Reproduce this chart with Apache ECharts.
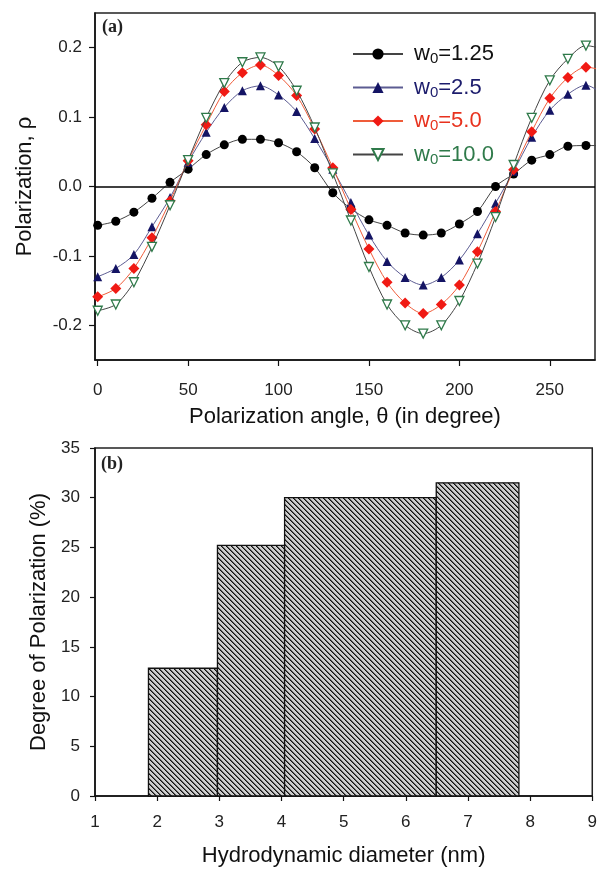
<!DOCTYPE html>
<html><head><meta charset="utf-8">
<script src="https://cdn.jsdelivr.net/npm/echarts@6/dist/echarts.min.js"></script>
<style>html,body{margin:0;padding:0;background:#fff}#c{width:600px;height:869px}</style>
</head><body><div id="c"></div>
<script>
// ---- Data (panel a) ----
const angles = [0,10,20,30,40,50,60,70,80,90,100,110,120,130,140,150,160,170,180,190,200,210,220,230,240,250,260,270,280];
const rho_w125 = [-0.056,-0.050,-0.037,-0.017,0.006,0.025,0.046,0.060,0.068,0.068,0.063,0.050,0.027,-0.009,-0.032,-0.048,-0.056,-0.067,-0.070,-0.067,-0.054,-0.036,0.000,0.018,0.038,0.046,0.058,0.059,0.059];
const rho_w25  = [-0.130,-0.118,-0.098,-0.058,-0.016,0.035,0.078,0.114,0.138,0.145,0.132,0.108,0.069,0.025,-0.023,-0.070,-0.108,-0.131,-0.142,-0.131,-0.106,-0.068,-0.024,0.022,0.071,0.110,0.133,0.146,0.132];
const rho_w50  = [-0.159,-0.147,-0.118,-0.074,-0.021,0.037,0.089,0.137,0.164,0.175,0.160,0.131,0.083,0.027,-0.033,-0.090,-0.138,-0.168,-0.183,-0.170,-0.142,-0.094,-0.036,0.024,0.079,0.127,0.157,0.172,0.167];
const rho_w100 = [-0.179,-0.170,-0.138,-0.087,-0.027,0.038,0.099,0.149,0.179,0.186,0.173,0.138,0.085,0.019,-0.049,-0.116,-0.170,-0.200,-0.212,-0.200,-0.165,-0.111,-0.044,0.031,0.099,0.153,0.184,0.203,0.198];
const seriesNames = ['w0=1.25','w0=2.5','w0=5.0','w0=10.0'];
const legendValues = ['1.25','2.5','5.0','10.0'];
const xTicksA = [0,50,100,150,200,250];
const yTicksA = [-0.2,-0.1,0.0,0.1,0.2];

// ---- Data (panel b) ----
const binLeft  = [1.86, 2.97, 4.05, 6.49];
const binRight = [2.97, 4.05, 6.49, 7.82];
const degree   = [12.85, 25.2, 30.0, 31.5];

const FONT = 'Liberation Sans, Arial, sans-serif';
function zip(xs, ys){ return xs.map((x,i)=>[x, ys[i]]); }

// hatch pattern
const pc = document.createElement('canvas');
const S = 5; pc.width = S; pc.height = S;
const ctx = pc.getContext('2d');
const img = ctx.createImageData(S, S);
for (let y=0;y<S;y++) for (let x=0;x<S;x++){
  const d = ((x - y) % S + S) % S;
  let v = 205;
  if (d === 0) v = 15; else if (d === 1) v = 95;
  const k = (y*S + x)*4;
  img.data[k]=v; img.data[k+1]=v; img.data[k+2]=v; img.data[k+3]=255;
}
ctx.putImageData(img,0,0);

const chart = echarts.init(document.getElementById('c'), null, {renderer:'canvas'});
const axisLineA = {show:true, onZero:false, lineStyle:{color:'#111', width:1.5}};
const axisTick = {show:true, inside:false, length:6, lineStyle:{color:'#111', width:1.2}};
const labelStyle = {color:'#222', fontFamily:FONT, fontSize:17};
const titleStyle = {fontFamily:FONT, fontSize:22, color:'#111'};

const legendColors = ['#111111','#1c1c6c','#e8321e','#2f7a4a'];

function lineSeries(i, data, lineColor, symbol, size, itemStyle, rotate){
  return {
    name: seriesNames[i], type:'line', xAxisIndex:0, yAxisIndex:0,
    data: data, smooth:0.3, symbol: symbol, symbolSize:size, symbolRotate: rotate||0,
    showAllSymbol:true, clip:true,
    lineStyle:{color: lineColor, width:1},
    itemStyle: itemStyle, z: 3+i, animation:false
  };
}

const option = {
  animation:false,
  grid:[
    {left:95, top:13, width:500, height:347, show:true, borderColor:'#222', borderWidth:1.5, backgroundColor:'transparent'},
    {left:95, top:448, width:500, height:348, show:true, borderColor:'#222', borderWidth:1.5, backgroundColor:'transparent'}
  ],
  legend:{
    orient:'vertical', left:347, top:38, itemWidth:50, itemHeight:14, itemGap:10,
    data: seriesNames.map((n,i)=>({name:n, textStyle:{color:legendColors[i]}})),
    formatter: function(name){ const i = seriesNames.indexOf(name); return '{p|w}{s|0}{a|=' + legendValues[i] + '}'; },
    textStyle:{fontFamily:FONT, fontSize:22, rich:{
      p:{fontFamily:FONT, fontSize:22, padding:[0,0,0,6]},
      a:{fontFamily:FONT, fontSize:22},
      s:{fontFamily:FONT, fontSize:15, verticalAlign:'bottom', padding:[10,0,0,0]}}},
    selectedMode:false
  },
  xAxis:[
    {type:'value', gridIndex:0, min:-1.5, max:275,
     axisLine:axisLineA, axisTick:Object.assign({customValues:xTicksA}, axisTick),
     axisLabel:Object.assign({customValues:xTicksA, margin:22}, labelStyle),
     splitLine:{show:false},
     name:'Polarization angle, θ (in degree)', nameLocation:'middle', nameGap:46,
     nameTextStyle:titleStyle},
    {type:'value', gridIndex:1, min:1, max:9, interval:1,
     axisLine:axisLineA, axisTick:Object.assign({}, axisTick, {length:5}),
     axisLabel:Object.assign({margin:18}, labelStyle),
     splitLine:{show:false},
     name:'Hydrodynamic diameter (nm)', nameLocation:'middle', nameGap:49,
     nameTextStyle:titleStyle}
  ],
  yAxis:[
    {type:'value', gridIndex:0, min:-0.25, max:0.25,
     axisLine:axisLineA, axisTick:Object.assign({customValues:yTicksA}, axisTick),
     axisLabel:Object.assign({customValues:yTicksA, margin:13, formatter:v=>v.toFixed(1)}, labelStyle),
     splitLine:{show:false},
     name:'Polarization, ρ', nameLocation:'middle', nameGap:59,
     nameTextStyle:titleStyle},
    {type:'value', gridIndex:1, min:0, max:35, interval:5,
     axisLine:axisLineA, axisTick:Object.assign({}, axisTick, {length:5}),
     axisLabel:Object.assign({margin:15}, labelStyle),
     splitLine:{show:false},
     name:'Degree of Polarization (%)', nameLocation:'middle', nameGap:45,
     nameTextStyle:titleStyle}
  ],
  graphic:[
    {type:'text', left:102, top:18, style:{text:'(a)', font:'bold 18px "Liberation Serif", "Times New Roman", serif', fill:'#222'}},
    {type:'text', left:101, top:455, style:{text:'(b)', font:'bold 18px "Liberation Serif", "Times New Roman", serif', fill:'#222'}}
  ],
  series:[
    Object.assign(lineSeries(0, zip(angles, rho_w125), '#444444', 'circle', 9, {color:'#000'}), {
      markLine:{silent:true, symbol:'none', label:{show:false}, lineStyle:{color:'#000', width:1.5, type:'solid'}, data:[{yAxis:0}], animation:false}
    }),
    lineSeries(1, zip(angles, rho_w25), '#5c5c92', 'triangle', 9, {color:'#141464'}),
    lineSeries(2, zip(angles, rho_w50), '#ef5c3a', 'diamond', 11, {color:'#f01a14'}),
    lineSeries(3, zip(angles, rho_w100), '#444444', 'triangle', 9, {color:'#ffffff', borderColor:'#2f7a4a', borderWidth:1.3}, 180),
    {
      type:'custom', xAxisIndex:1, yAxisIndex:1,
      data: binLeft.map((l,i)=>[l, binRight[i], degree[i]]),
      encode:{x:[0,1], y:2},
      renderItem:function(params, api){
        const p0 = api.coord([api.value(0), api.value(2)]);
        const p1 = api.coord([api.value(1), 0]);
        return {type:'rect', shape:{x:p0[0], y:p0[1], width:p1[0]-p0[0], height:p1[1]-p0[1]},
          style:{fill:{image:pc, repeat:'repeat'}, stroke:'#111', lineWidth:1.3}};
      },
      animation:false
    }
  ]
};
chart.setOption(option);
</script></body></html>
